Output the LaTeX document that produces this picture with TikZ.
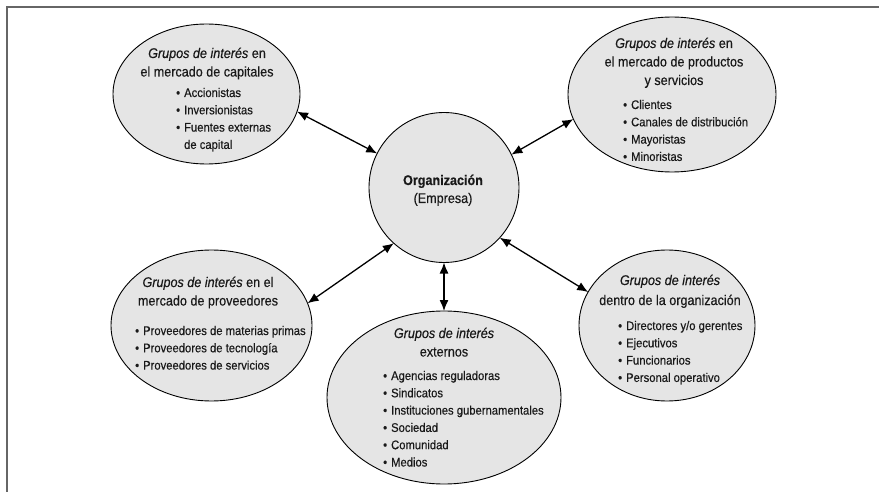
\documentclass[tikz,border=0pt]{standalone}
\usepackage{fontspec}
\setmainfont{Liberation Sans}[FakeStretch=0.9, FakeBold=0.4]
\usetikzlibrary{arrows.meta, shapes.geometric}

\newcommand{\gint}{\textit{Grupos de interés}}

\begin{document}
\begin{tikzpicture}[
  x=1pt, y=-1pt,
  grupo/.style={
    draw,
    ellipse,
    fill=black!10,
    line width=0.9pt,
    inner sep=0pt,
    outer sep=0pt
  },
  head/.style={anchor=base, inner sep=0pt, text=black!90, font=\fontsize{14}{18.5}\selectfont},
  lista/.style={anchor=base west, inner sep=0pt, text=black!90, font=\fontsize{12.5}{17.3}\selectfont},
  arr/.style={{Latex[length=11pt,width=9pt]}-{Latex[length=11pt,width=9pt]}, line width=1.3pt}
]

\useasboundingbox (0,0) rectangle (879,492);
\draw[black!60, line width=2.2pt] (7,492) -- (7,7) -- (879,7);

% Center
\node[grupo, minimum size=150pt] (org) at (444,187.5) {};
\node[head, font=\fontsize{14}{18}\selectfont] (orgH) at (443,185) {\begin{tabular}[t]{@{}c@{}}\textbf{Organización}\\ (Empresa)\end{tabular}};

% Groups
\node[grupo, minimum width=187pt, minimum height=140pt] (cap) at (206.5,94) {};
\node[grupo, minimum width=208pt, minimum height=155pt] (prod) at (672,94.5) {};
\node[grupo, minimum width=201pt, minimum height=151pt] (prov) at (211.5,325.5) {};
\node[grupo, minimum width=234pt, minimum height=173pt] (ext) at (444,397.5) {};
\node[grupo, minimum width=176pt, minimum height=151pt] (int) at (667,325.5) {};

% Headings
\node[head] (capH) at (207,58) {\begin{tabular}[t]{@{}c@{}}\gint{} en\\ el mercado de capitales\end{tabular}};
\node[head] (prodH) at (674,48) {\begin{tabular}[t]{@{}c@{}}\gint{} en\\ el mercado de productos\\ y servicios\end{tabular}};
\node[head] (provH) at (208,287) {\begin{tabular}[t]{@{}c@{}}\gint{} en el\\ mercado de proveedores\end{tabular}};
\node[head] (extH) at (444,338) {\begin{tabular}[t]{@{}c@{}}\gint\\ externos\end{tabular}};
\node[head, font=\fontsize{14}{20}\selectfont] (intH) at (670,285) {\begin{tabular}[t]{@{}c@{}}\gint\\ dentro de la organización\end{tabular}};

% Lists
\node[lista] (capL) at (176,97) {\begin{tabular}[t]{@{}l@{\hspace{4pt}}l@{}}
  \textbullet & Accionistas\\ \textbullet & Inversionistas\\ \textbullet & Fuentes externas\\ & de capital\end{tabular}};
\node[lista] (prodL) at (623,109) {\begin{tabular}[t]{@{}l@{\hspace{4pt}}l@{}}
  \textbullet & Clientes\\ \textbullet & Canales de distribución\\ \textbullet & Mayoristas\\ \textbullet & Minoristas\end{tabular}};
\node[lista] (provL) at (135,335) {\begin{tabular}[t]{@{}l@{\hspace{4pt}}l@{}}
  \textbullet & Proveedores de materias primas\\ \textbullet & Proveedores de tecnología\\ \textbullet & Proveedores de servicios\end{tabular}};
\node[lista] (extL) at (383,380) {\begin{tabular}[t]{@{}l@{\hspace{4pt}}l@{}}
  \textbullet & Agencias reguladoras\\ \textbullet & Sindicatos\\ \textbullet & Instituciones gubernamentales\\
  \textbullet & Sociedad\\ \textbullet & Comunidad\\ \textbullet & Medios\end{tabular}};
\node[lista] (intL) at (618,330) {\begin{tabular}[t]{@{}l@{\hspace{4pt}}l@{}}
  \textbullet & Directores y/o gerentes\\ \textbullet & Ejecutivos\\ \textbullet & Funcionarios\\ \textbullet & Personal operativo\end{tabular}};

% Arrows
\draw[arr] (cap.-11) -- (org.153);
\draw[arr] (prod.-166) -- (org.26);
\draw[arr] (prov.13) -- (org.228);
\draw[arr] (ext.north) -- (org.south);
\draw[arr] (int.157) -- (org.-42);

\end{tikzpicture}
\end{document}
